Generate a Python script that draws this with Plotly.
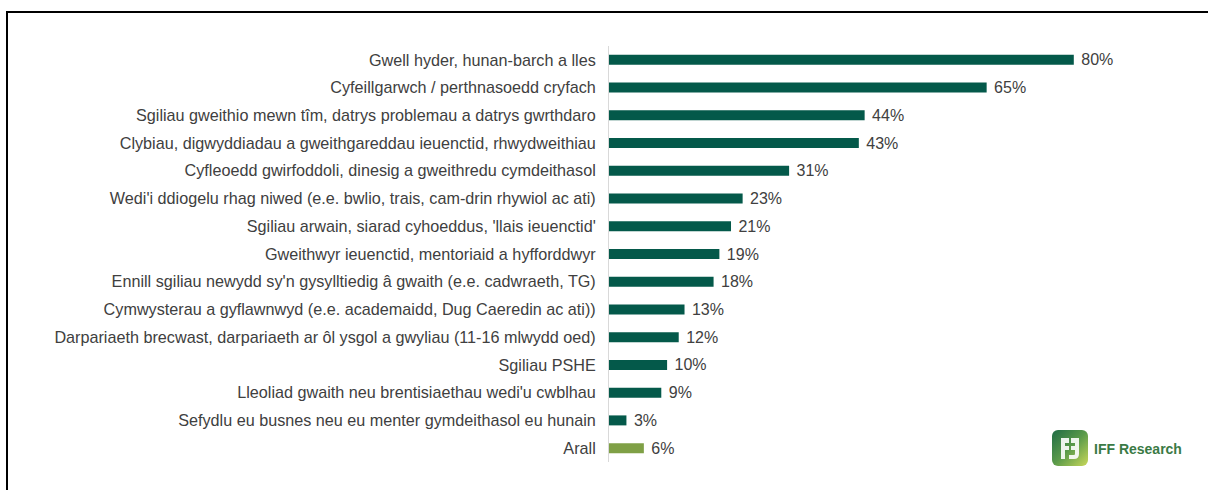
import base64
import plotly.graph_objects as go

categories = [
    "Gwell hyder, hunan-barch a lles",
    "Cyfeillgarwch / perthnasoedd cryfach",
    "Sgiliau gweithio mewn tîm, datrys problemau a datrys gwrthdaro",
    "Clybiau, digwyddiadau a gweithgareddau ieuenctid, rhwydweithiau",
    "Cyfleoedd gwirfoddoli, dinesig a gweithredu cymdeithasol",
    "Wedi'i ddiogelu rhag niwed (e.e. bwlio, trais, cam-drin rhywiol ac ati)",
    "Sgiliau arwain, siarad cyhoeddus, 'llais ieuenctid'",
    "Gweithwyr ieuenctid, mentoriaid a hyfforddwyr",
    "Ennill sgiliau newydd sy'n gysylltiedig â gwaith (e.e. cadwraeth, TG)",
    "Cymwysterau a gyflawnwyd (e.e. academaidd, Dug Caeredin ac ati))",
    "Darpariaeth brecwast, darpariaeth ar ôl ysgol a gwyliau (11-16 mlwydd oed)",
    "Sgiliau PSHE",
    "Lleoliad gwaith neu brentisiaethau wedi'u cwblhau",
    "Sefydlu eu busnes neu eu menter gymdeithasol eu hunain",
    "Arall",
]
values = [80, 65, 44, 43, 31, 23, 21, 19, 18, 13, 12, 10, 9, 3, 6]
labels = [f"{v}%" for v in values]

DARK = "#04594A"
LIGHT = "#7FA046"
colors = [LIGHT if c == "Arall" else DARK for c in categories]

FONT = "Liberation Sans, Arial, sans-serif"
W, H = 1208, 490
L, R, T, B = 609, 38, 46, 28
pw, ph = W - L - R, H - T - B

def px(x):
    return (x - L) / pw

def py(y):
    return (H - B - y) / ph

fig = go.Figure(go.Bar(
    y=categories, x=values, orientation="h",
    marker=dict(color=colors, line=dict(width=0)),
    text=labels, textposition="outside", cliponaxis=False, constraintext="none",
    textfont=dict(family=FONT, size=16, color="#404040"),
    texttemplate=" %{text}",
    hoverinfo="skip",
))

svg = """<svg xmlns='http://www.w3.org/2000/svg' width='36' height='36' viewBox='0 0 36 36'>
<defs><linearGradient id='g' x1='0' y1='0' x2='1' y2='1'>
<stop offset='0' stop-color='#1f6b45'/><stop offset='0.5' stop-color='#5a9a4a'/><stop offset='1' stop-color='#c9d85a'/></linearGradient></defs>
<rect x='0' y='0' width='36' height='36' rx='6' fill='url(#g)'/>
<path d='M9 8 H17 V13 H13 V16 H17 V20 H13 V29 H9 Z' fill='white' opacity='0.9'/>
<path d='M19 8 H27 V24 Q27 29 22 29 H17 V25 H22 Q23 25 23 24 V20 H19 V16 H23 V13 H19 Z' fill='white' opacity='0.9'/>
</svg>"""
uri = "data:image/svg+xml;base64," + base64.b64encode(svg.encode()).decode()

fig.update_layout(
    width=W, height=H,
    margin=dict(l=L, r=R, t=T, b=B),
    paper_bgcolor="white", plot_bgcolor="white",
    bargap=0.64,
    showlegend=False,
    font=dict(family=FONT, size=16, color="#404040"),
    xaxis=dict(range=[0, pw / 5.81], visible=False, fixedrange=True),
    yaxis=dict(autorange="reversed", showline=True, linecolor="#d9d9d9", linewidth=1,
               ticks="", ticklabelstandoff=9, showgrid=False, zeroline=False, fixedrange=True,
               tickfont=dict(family=FONT, size=16.2, color="#404040")),
    shapes=[
        dict(type="line", xref="paper", yref="paper", x0=px(6), x1=px(1210), y0=py(12), y1=py(12),
             line=dict(color="black", width=2)),
        dict(type="line", xref="paper", yref="paper", x0=px(7), x1=px(7), y0=py(11), y1=py(492),
             line=dict(color="black", width=2)),
    ],
    images=[dict(source=uri, xref="paper", yref="paper", x=px(1052), y=py(430),
                 sizex=36 / pw, sizey=36 / ph, xanchor="left", yanchor="top", layer="above")],
    annotations=[dict(text="<b>IFF Research</b>", xref="paper", yref="paper",
                      x=px(1092), y=py(449), xanchor="left", yanchor="middle", showarrow=False,
                      font=dict(family=FONT, size=14, color="#3a7a45"))],
)

fig.write_html("out.html", config={"displayModeBar": False},
               post_script="document.body.style.margin='0px';document.body.style.overflow='hidden';")
